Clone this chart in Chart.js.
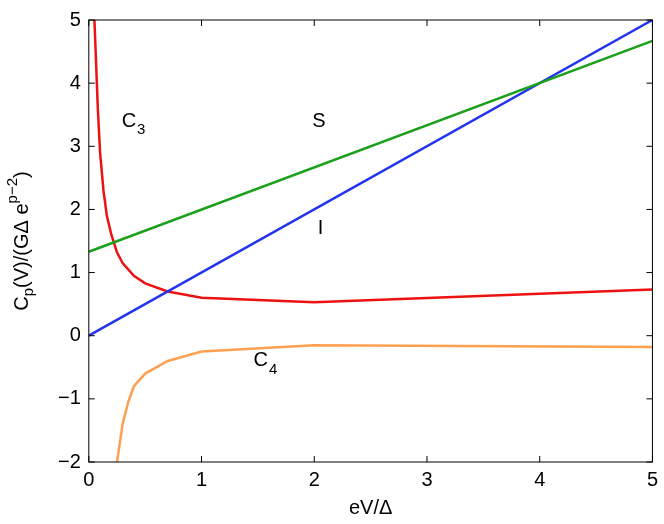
<!DOCTYPE html>
<html>
<head>
<meta charset="utf-8">
<script src="https://cdn.jsdelivr.net/npm/chart.js@4/dist/chart.umd.min.js"></script>
<style>
  body { margin: 0; background: #fff; }
  #wrap { width: 664px; height: 524px; }
</style>
</head>
<body>
<div id="wrap"><canvas id="c"></canvas></div>
<script>
const xTicks = [0, 1, 2, 3, 4, 5];
const yTicks = [-2, -1, 0, 1, 2, 3, 4, 5];

const iX = [0, 5];
const iY = [0, 5];
const sX = [0, 5];
const sY = [1.33, 4.67];
const c3X = [0.05, 0.08, 0.1, 0.13, 0.16, 0.2, 0.25, 0.3, 0.4, 0.5, 0.7, 1, 2, 5];
const c3Y = [5, 3.6, 2.9, 2.3, 1.9, 1.6, 1.32, 1.15, 0.95, 0.83, 0.7, 0.6, 0.53, 0.73];
const c4X = [0.25, 0.3, 0.35, 0.4, 0.5, 0.7, 1, 2, 5];
const c4Y = [-2, -1.4, -1.05, -0.8, -0.6, -0.4, -0.25, -0.15, -0.18];

// text labels placed in data coordinates
const labels = [
  { x: 0.38, y: 3.4, main: "C", sub: "3" },
  { x: 2.07, y: 3.4, main: "S" },
  { x: 2.12, y: 1.7, main: "I" },
  { x: 1.55, y: -0.4, main: "C", sub: "4" }
];

const pts = (xs, ys) => xs.map((x, i) => ({ x, y: ys[i] }));
const line = (data, color) => ({
  data, borderColor: color, borderWidth: 2.5, pointRadius: 0, tension: 0, fill: false
});

const fmt = (v) => (v < 0 ? "\u2212" + Math.abs(v) : String(v));

const annotate = {
  id: "annotate",
  afterDraw(chart) {
    const { ctx, scales: { x, y }, chartArea: a } = chart;
    ctx.save();
    ctx.strokeStyle = "#000";
    ctx.lineWidth = 1;
    ctx.strokeRect(a.left, a.top, a.right - a.left, a.bottom - a.top);
    // inward ticks
    xTicks.forEach((v) => {
      const px = x.getPixelForValue(v);
      ctx.beginPath();
      ctx.moveTo(px, a.bottom); ctx.lineTo(px, a.bottom - 6);
      ctx.moveTo(px, a.top); ctx.lineTo(px, a.top + 6);
      ctx.stroke();
    });
    yTicks.forEach((v) => {
      const py = y.getPixelForValue(v);
      ctx.beginPath();
      ctx.moveTo(a.left, py); ctx.lineTo(a.left + 6, py);
      ctx.moveTo(a.right, py); ctx.lineTo(a.right - 6, py);
      ctx.stroke();
    });
    ctx.fillStyle = "#000";
    ctx.textBaseline = "middle";
    labels.forEach((l) => {
      const px = x.getPixelForValue(l.x);
      const py = y.getPixelForValue(l.y);
      ctx.font = "20px 'Liberation Sans', Arial, sans-serif";
      ctx.textAlign = "left";
      const w = ctx.measureText(l.main).width;
      ctx.fillText(l.main, px - 10, py);
      if (l.sub) {
        ctx.font = "15px 'Liberation Sans', Arial, sans-serif";
        ctx.fillText(l.sub, px - 10 + w + 1, py + 9);
      }
    });
    // x title
    ctx.font = "20px 'Liberation Sans', Arial, sans-serif";
    ctx.textAlign = "center";
    ctx.fillText("eV/\u0394", (a.left + a.right) / 2, 508);
    // y title with sub/superscripts
    ctx.translate(22, (a.top + a.bottom) / 2);
    ctx.rotate(-Math.PI / 2);
    const parts = [
      ["C", 0, 20], ["p", 7, 15], ["(V)/(G\u0394 e", 0, 20], ["p\u22122", -9, 15], [")", 0, 20]
    ];
    let total = 0;
    parts.forEach(([t, , s]) => { ctx.font = s + "px 'Liberation Sans', Arial, sans-serif"; total += ctx.measureText(t).width; });
    let cx = -total / 2;
    ctx.textAlign = "left";
    parts.forEach(([t, dy, s]) => {
      ctx.font = s + "px 'Liberation Sans', Arial, sans-serif";
      ctx.fillText(t, cx, dy);
      cx += ctx.measureText(t).width;
    });
    ctx.restore();
  }
};

new Chart(document.getElementById("c"), {
  type: "line",
  data: {
    datasets: [
      line(pts(sX, sY), "#1aa01a"),
      line(pts(iX, iY), "#2233ee"),
      line(pts(c3X, c3Y), "#ee1111"),
      line(pts(c4X, c4Y), "#ffa050")
    ]
  },
  options: {
    responsive: true,
    maintainAspectRatio: false,
    animation: false,
    layout: { padding: { left: 50, right: 10, top: 10, bottom: 26 } },
    plugins: { legend: { display: false }, tooltip: { enabled: false } },
    scales: {
      x: {
        type: "linear", min: 0, max: 5,
        grid: { display: false, drawTicks: false },
        border: { display: false },
        afterBuildTicks: (s) => { s.ticks = xTicks.map((v) => ({ value: v })); },
        ticks: { color: "#000", padding: 6, font: { size: 20, family: "'Liberation Sans', Arial" }, callback: fmt }
      },
      y: {
        type: "linear", min: -2, max: 5,
        grid: { display: false, drawTicks: false },
        border: { display: false },
        afterBuildTicks: (s) => { s.ticks = yTicks.map((v) => ({ value: v })); },
        ticks: { color: "#000", padding: 8, font: { size: 20, family: "'Liberation Sans', Arial" }, callback: fmt }
      }
    }
  },
  plugins: [annotate]
});
</script>
</body>
</html>
